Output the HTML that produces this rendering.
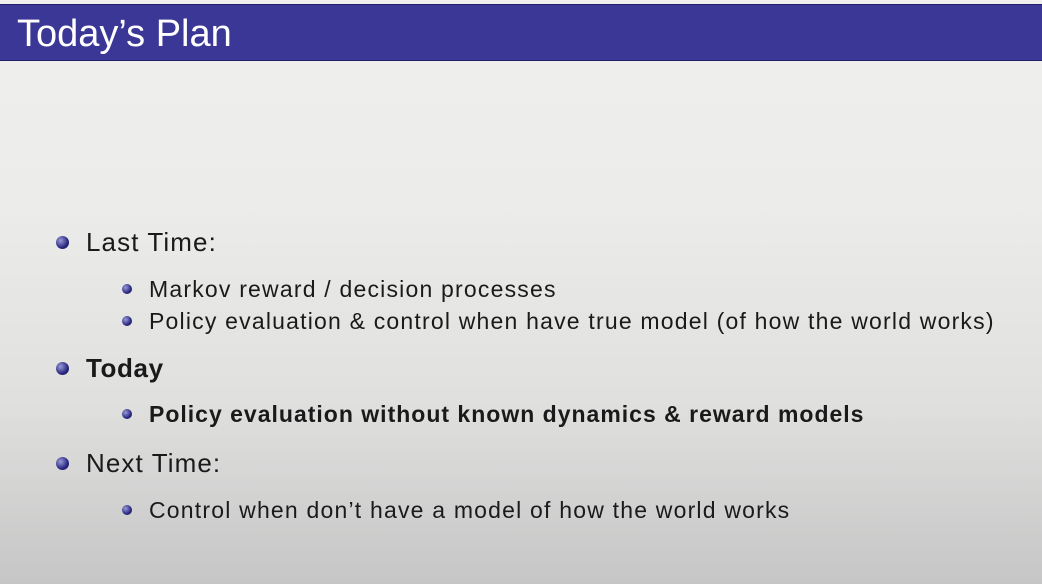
<!DOCTYPE html>
<html><head><style>
html,body{margin:0;padding:0}
body{width:1042px;height:584px;position:relative;overflow:hidden;font-family:"Liberation Sans",sans-serif;
background:linear-gradient(to bottom,#efefed 0px,#ececea 200px,#e0e0df 400px,#c6c6c6 584px);color:#1a1a1a}
.hdr{position:absolute;left:0;top:4px;width:1042px;height:57px;background:#3a3797;border-top:1px solid #22206a;border-bottom:1px solid #22206a;box-sizing:border-box}
.title{position:absolute;left:17px;top:4px;font-size:38px;color:#fff;line-height:50px}
.t{position:absolute;white-space:nowrap;line-height:1}
.b1{position:absolute;width:13px;height:13px;border-radius:50%;background:radial-gradient(circle at 35% 35%,#9a9ad8,#2a2880 60%,#14124a)}
.b2{position:absolute;width:10px;height:10px;border-radius:50%;background:radial-gradient(circle at 35% 35%,#9a9ad8,#2a2880 60%,#14124a)}
.l1{font-size:26px;left:86px;letter-spacing:1.1px}
.l2{font-size:23px;left:149px;letter-spacing:1.2px}
</style></head><body>
<div class="hdr"><div class="title">Today’s Plan</div></div>

<div class="b1" style="left:56px;top:236px"></div>
<div class="t l1" style="top:229px">Last Time:</div>
<div class="b2" style="left:122px;top:284px"></div>
<div class="t l2" style="top:278px">Markov reward / decision processes</div>
<div class="b2" style="left:122px;top:316px"></div>
<div class="t l2" style="top:310px">Policy evaluation &amp; control when have true model (of how the world works)</div>

<div class="b1" style="left:56px;top:362px"></div>
<div class="t l1" style="top:355px;font-weight:bold;letter-spacing:0.6px">Today</div>
<div class="b2" style="left:122px;top:409px"></div>
<div class="t l2" style="top:403px;font-weight:bold;letter-spacing:1px">Policy evaluation without known dynamics &amp; reward models</div>

<div class="b1" style="left:56px;top:457px"></div>
<div class="t l1" style="top:450px">Next Time:</div>
<div class="b2" style="left:122px;top:505px"></div>
<div class="t l2" style="top:499px">Control when don’t have a model of how the world works</div>
</body></html>
